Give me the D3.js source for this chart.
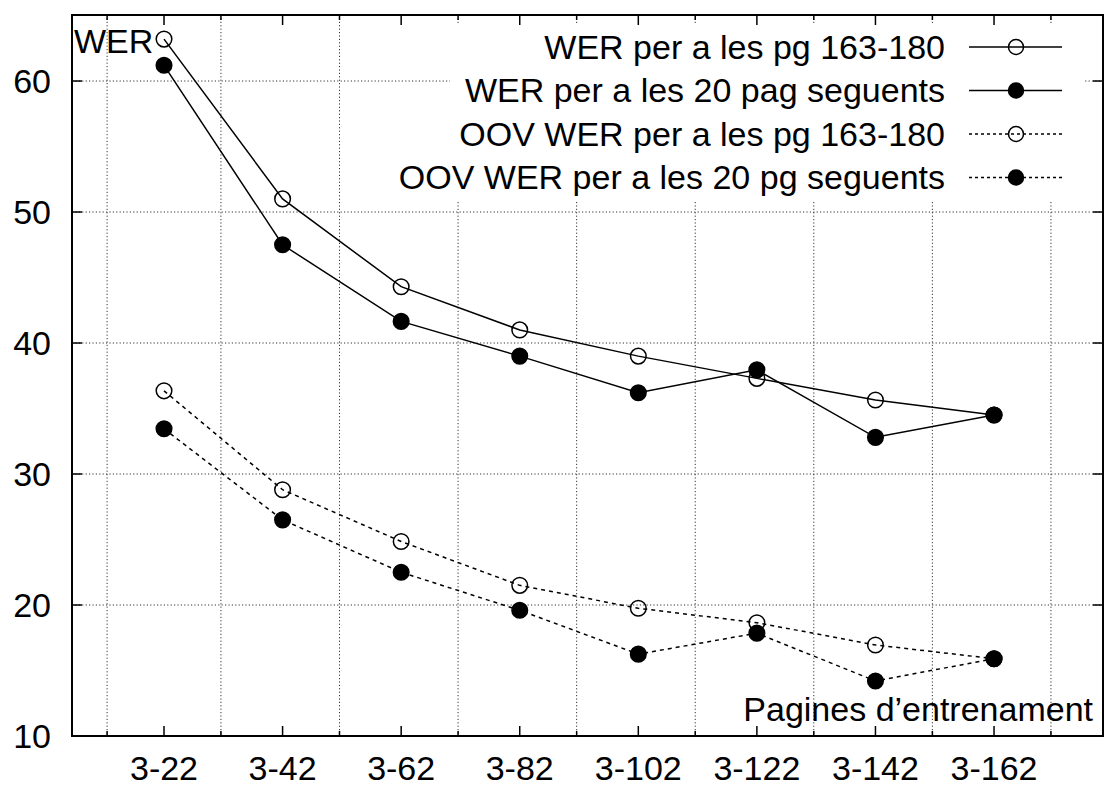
<!DOCTYPE html>
<html>
<head>
<meta charset="utf-8">
<script src="https://cdn.jsdelivr.net/npm/d3@7"></script>
<style>
  body { margin: 0; background: #fff; }
  text { font-family: "Liberation Sans", Arial, sans-serif; fill: #000; }
</style>
</head>
<body>
<svg id="chart"></svg>
<script>
// x categories (training pages) and the four series
var categories = ["3-22", "3-42", "3-62", "3-82", "3-102", "3-122", "3-142", "3-162"];
var werTest    = [63.2, 51.0, 44.3, 41.0, 39.0, 37.3, 35.65, 34.5];
var werNext    = [61.2, 47.5, 41.65, 39.0, 36.2, 37.95, 32.8, 34.5];
var oovTest    = [36.35, 28.8, 24.85, 21.5, 19.75, 18.65, 16.95, 15.9];
var oovNext    = [33.45, 26.5, 22.5, 19.6, 16.25, 17.85, 14.2, 15.9];
var yTicks     = [10, 20, 30, 40, 50, 60];
var gridX      = [0.52, 1.48, 2.48, 3.48, 4.48, 5.48, 6.48, 7.48, 8.48];

var series = [
  {name: "WER per a les pg 163-180",         values: werTest, filled: false, dash: null},
  {name: "WER per a les 20 pag seguents",     values: werNext, filled: true,  dash: null},
  {name: "OOV WER per a les pg 163-180",      values: oovTest, filled: false, dash: "4,4"},
  {name: "OOV WER per a les 20 pg seguents",  values: oovNext, filled: true,  dash: "4,4"}
];

var W = 1105, H = 787;
var pLeft = 72, pTop = 15, pRight = 1103, pBottom = 736;
var fs = 34;

var svg = d3.select("#chart").attr("width", W).attr("height", H);

var x = d3.scaleLinear().domain([0.224, 8.919]).range([pLeft, pRight]);
var y = d3.scaleLinear().domain([10, 65.04]).range([pBottom, pTop]);

// grid
var grid = svg.append("g").attr("stroke", "#333").attr("stroke-width", 1).attr("stroke-dasharray", "1.2,2.2");
grid.selectAll(".gx").data(gridX).join("line").attr("class", "gx")
  .attr("x1", d => x(d)).attr("x2", d => x(d))
  .attr("y1", pTop).attr("y2", pBottom);
grid.selectAll(".gy").data(yTicks.slice(1)).join("line").attr("class", "gy")
  .attr("x1", pLeft).attr("x2", pRight)
  .attr("y1", d => y(d)).attr("y2", d => y(d));

// tics (inward, mirrored)
var tics = svg.append("g").attr("stroke", "#000").attr("stroke-width", 1.5);
categories.forEach(function(c, i) {
  tics.append("line").attr("x1", x(i + 1)).attr("x2", x(i + 1)).attr("y1", pBottom).attr("y2", pBottom - 10);
  tics.append("line").attr("x1", x(i + 1)).attr("x2", x(i + 1)).attr("y1", pTop).attr("y2", pTop + 10);
});
gridX.forEach(function(g) {
  tics.append("line").attr("x1", x(g)).attr("x2", x(g)).attr("y1", pBottom).attr("y2", pBottom - 5);
  tics.append("line").attr("x1", x(g)).attr("x2", x(g)).attr("y1", pTop).attr("y2", pTop + 5);
});
yTicks.forEach(function(t) {
  tics.append("line").attr("x1", pLeft).attr("x2", pLeft + 10).attr("y1", y(t)).attr("y2", y(t));
  tics.append("line").attr("x1", pRight).attr("x2", pRight - 10).attr("y1", y(t)).attr("y2", y(t));
});

// tick labels
svg.append("g").selectAll("text").data(yTicks).join("text")
  .attr("x", 51).attr("y", d => y(d)).attr("dy", "0.35em")
  .attr("text-anchor", "end").style("font-size", fs + "px")
  .text(d => d);
svg.append("g").selectAll("text").data(categories).join("text")
  .attr("x", (d, i) => x(i + 1)).attr("y", 780)
  .attr("text-anchor", "middle").style("font-size", fs + "px")
  .text(d => d);

// legend box (opaque, covers grid)
svg.append("rect").attr("x", 450).attr("y", 25).attr("width", 633).attr("height", 175).attr("fill", "#fff");

// axis labels inside the plot
svg.append("text").attr("x", 74).attr("y", 53).style("font-size", fs + "px").text("WER");
svg.append("text").attr("x", 1093).attr("y", 721).attr("text-anchor", "end")
  .style("font-size", fs + "px").text("Pagines d\u2019entrenament");

// series
var line = d3.line().x((d, i) => x(i + 1)).y(d => y(d));
series.forEach(function(s) {
  svg.append("path").datum(s.values)
    .attr("d", line).attr("fill", "none")
    .attr("stroke", "#000").attr("stroke-width", 1.5)
    .attr("stroke-dasharray", s.dash);
  svg.append("g").selectAll("circle").data(s.values).join("circle")
    .attr("cx", (d, i) => x(i + 1)).attr("cy", d => y(d)).attr("r", 7.8)
    .attr("fill", s.filled ? "#000" : "none")
    .attr("stroke", "#000").attr("stroke-width", 1.5);
});

// legend entries
var leg = svg.append("g");
series.forEach(function(s, i) {
  var ly = 47 + i * 43.5;
  leg.append("text").attr("x", 945).attr("y", ly).attr("dy", "0.35em")
    .attr("text-anchor", "end").style("font-size", fs + "px").text(s.name);
  leg.append("line").attr("x1", 969).attr("x2", 1062).attr("y1", ly).attr("y2", ly)
    .attr("stroke", "#000").attr("stroke-width", 1.5)
    .attr("stroke-dasharray", s.dash ? "3,3" : null);
  leg.append("circle").attr("cx", 1016).attr("cy", ly).attr("r", 7.5)
    .attr("fill", s.filled ? "#000" : "none")
    .attr("stroke", "#000").attr("stroke-width", 1.5);
});

// border
svg.append("rect").attr("x", pLeft).attr("y", pTop).attr("width", pRight - pLeft).attr("height", pBottom - pTop)
  .attr("fill", "none").attr("stroke", "#000").attr("stroke-width", 2);
</script>
</body>
</html>
